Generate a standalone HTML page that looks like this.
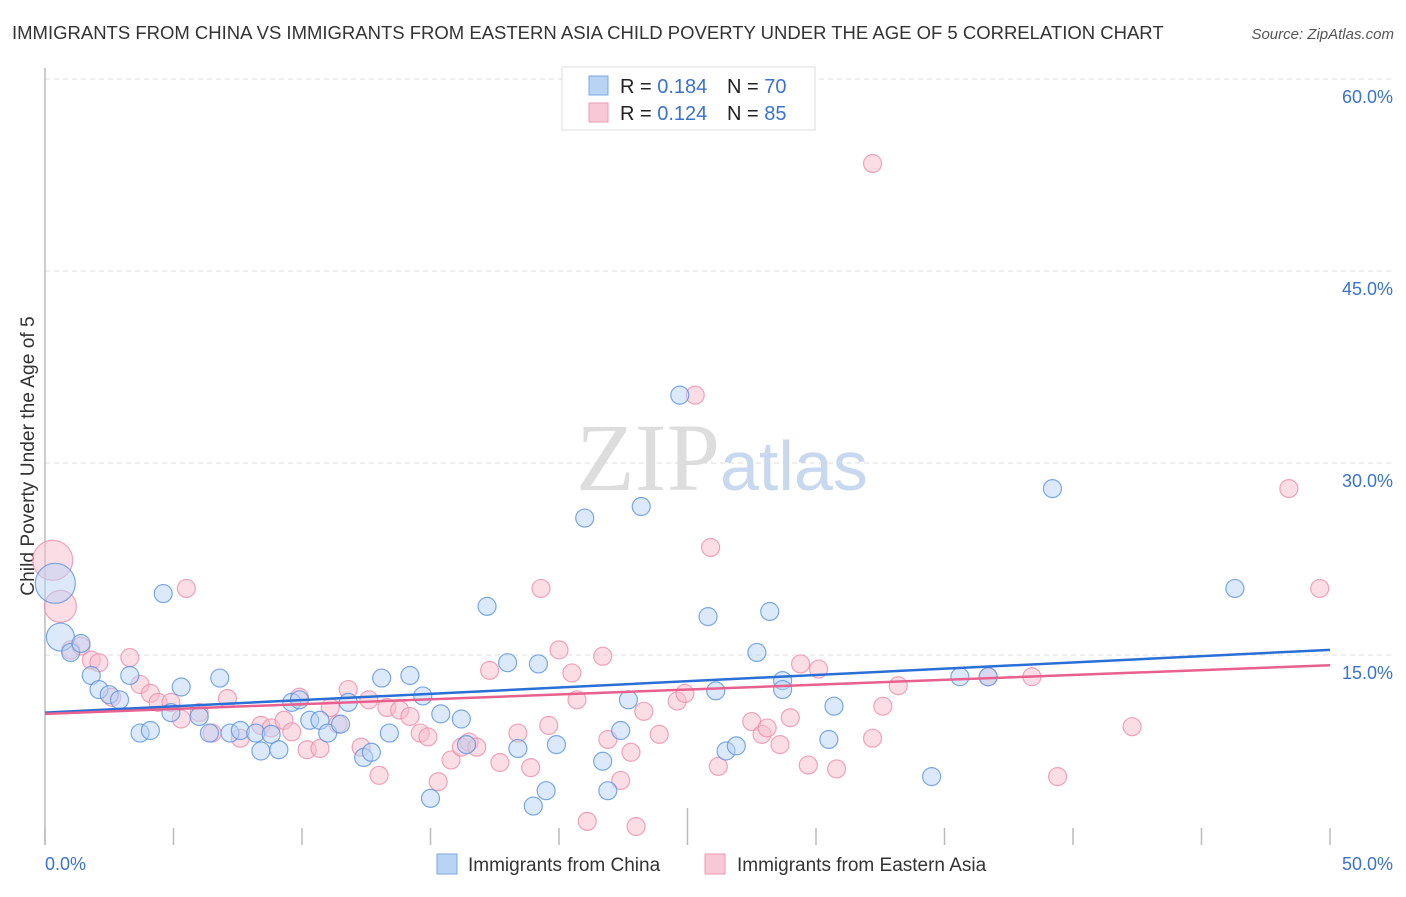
<!DOCTYPE html>
<html><head><meta charset="utf-8"><style>
body{margin:0;background:#fff;font-family:"Liberation Sans",sans-serif;}
</style></head><body>
<svg id="chart" width="1406" height="892" xmlns="http://www.w3.org/2000/svg">
<text x="12" y="39" font-size="18.5" fill="#333">IMMIGRANTS FROM CHINA VS IMMIGRANTS FROM EASTERN ASIA CHILD POVERTY UNDER THE AGE OF 5 CORRELATION CHART</text>
<text x="1394" y="39" font-size="15" fill="#555" font-style="italic" text-anchor="end">Source: ZipAtlas.com</text>
<g id="grid"></g>
<text x="720" y="490" font-size="96" font-family="Liberation Serif,serif" fill="#ddd" text-anchor="end">ZIP</text>
<text x="720" y="490" font-size="70" fill="#c8d8ef">atlas</text>
<line x1="45" y1="68" x2="45" y2="845" stroke="#bbb" stroke-width="1.5"/>
<text transform="translate(34,456) rotate(-90)" font-size="19.2" fill="#333" text-anchor="middle">Child Poverty Under the Age of 5</text>
<g id="ticks"></g>
<g id="pts"></g>
<g id="trends"></g>
<g>
<rect x="562" y="67" width="253" height="63" fill="#fff" stroke="#ddd"/>
<rect x="589" y="76" width="19" height="19" fill="#b9d3f5" stroke="#7aa7e3"/>
<rect x="589" y="103" width="19" height="19" fill="#f9c8d6" stroke="#ee9ab4"/>
<text x="620" y="93" font-size="20" fill="#222">R = <tspan fill="#3a72cc">0.184</tspan></text>
<text x="727" y="93" font-size="20" fill="#222">N = <tspan fill="#3a72cc">70</tspan></text>
<text x="620" y="120" font-size="20" fill="#222">R = <tspan fill="#3a72cc">0.124</tspan></text>
<text x="727" y="120" font-size="20" fill="#222">N = <tspan fill="#3a72cc">85</tspan></text>
</g>
<g>
<rect x="437" y="854" width="20" height="20" fill="#b9d3f5" stroke="#7aa7e3"/>
<text x="468" y="871" font-size="19" fill="#333">Immigrants from China</text>
<rect x="705" y="854" width="20" height="20" fill="#f9c8d6" stroke="#ee9ab4"/>
<text x="737" y="871" font-size="19" fill="#333">Immigrants from Eastern Asia</text>
</g>
</svg>
<script>
const yTicks=[15,30,45,60];
const yTickLabels=["15.0%","30.0%","45.0%","60.0%"];
const xTicks=[0,5,10,15,20,25,30,35,40,45,50];
const xEndLabels=["0.0%","50.0%"];
const chinaX=[0.4,0.6,1.0,1.4,1.8,2.1,2.5,2.9,3.3,3.7,4.1,4.6,4.9,5.3,6.0,6.4,6.8,7.2,7.6,8.2,8.4,8.8,9.1,9.6,9.9,10.3,10.7,11.0,11.5,11.8,12.4,12.7,13.1,13.4,14.2,14.7,15.0,15.4,16.2,16.4,17.2,18.0,18.4,19.0,19.2,19.5,19.9,21.0,21.7,21.9,22.4,22.7,23.2,24.7,25.8,26.1,26.5,26.9,27.7,28.2,28.7,28.7,30.5,30.7,34.5,35.6,36.7,39.2,46.3];
const chinaY=[20.6,16.4,15.2,15.9,13.4,12.3,11.9,11.5,13.4,8.9,9.1,19.8,10.5,12.5,10.2,8.9,13.2,8.9,9.1,8.9,7.5,8.8,7.6,11.3,11.5,9.9,9.9,8.9,9.6,11.3,7.0,7.4,13.2,8.9,13.4,11.8,3.8,10.4,10.0,8.0,18.8,14.4,7.7,3.2,14.3,4.4,8.0,25.7,6.7,4.4,9.1,11.5,26.6,35.3,18.0,12.2,7.5,7.9,15.2,18.4,13.0,12.3,8.4,11.0,5.5,13.3,13.3,28.0,20.2];
const chinaR=[20,14];
const asiaX=[0.3,0.6,1.0,1.4,1.8,2.1,2.6,3.3,3.7,4.1,4.4,4.9,5.3,5.5,6.0,6.5,7.1,7.6,8.4,8.8,9.3,9.6,9.9,10.2,10.7,11.1,11.4,11.8,12.3,12.6,13.0,13.3,13.8,14.2,14.6,14.9,15.3,15.8,16.2,16.5,16.8,17.3,17.7,18.4,18.9,19.3,19.6,20.0,20.5,20.7,21.1,21.7,21.9,22.4,22.8,23.3,23.0,23.9,24.6,24.9,25.3,25.9,26.2,27.5,27.9,28.1,28.6,29.0,29.4,29.7,30.1,30.8,32.2,32.2,32.6,33.2,36.7,38.4,39.4,42.3,48.4,49.6];
const asiaY=[22.4,18.8,15.4,15.7,14.6,14.4,11.7,14.8,12.7,12.0,11.3,11.3,10.0,20.2,10.5,8.9,11.6,8.5,9.5,9.3,9.9,9.0,11.7,7.6,7.7,10.9,9.6,12.3,7.8,11.5,5.6,10.9,10.7,10.2,8.9,8.6,5.1,6.8,7.8,8.2,7.8,13.8,6.6,8.9,6.2,20.2,9.5,15.4,13.6,11.5,2.0,14.9,8.4,5.2,7.4,10.6,1.6,8.8,11.4,12.0,35.3,23.4,6.3,9.8,8.8,9.3,8.0,10.1,14.3,6.4,13.9,6.1,53.4,8.5,11.0,12.6,13.3,13.3,5.5,9.4,28.0,20.2];
const asiaR=[20,16];
const chinaTrend=[10.5,15.4];
const asiaTrend=[10.4,14.2];
const NS="http://www.w3.org/2000/svg";
const X0=45,X1=1330,YB=847,PPU=192/15;
function sx(v){return X0+(v/50)*(X1-X0);}
function sy(v){return YB-v*PPU;}
function mk(tag,parent,attrs){const e=document.createElementNS(NS,tag);for(const k in attrs)e.setAttribute(k,attrs[k]);document.getElementById(parent).appendChild(e);return e;}
yTicks.forEach((t,i)=>{
 const l=mk('line','grid',{x1:45,x2:1393,y1:sy(t),y2:sy(t),stroke:'#ddd','stroke-dasharray':'5,4'});
 
 
 const tx=mk('text','grid',{x:1393,y:sy(t)+24,'font-size':18,fill:'#3a72cc','text-anchor':'end'});
 tx.textContent=yTickLabels[i];
 
 
});
xTicks.forEach((t,i)=>{
 const l=mk('line','ticks',{x1:sx(t),x2:sx(t),y1:(t===25?808:828),y2:845,stroke:'#bbb','stroke-width':1.5});
 
 
});
[[0,'start',45],[50,'end',1393]].forEach((d,i)=>{
 const tx=mk('text','ticks',{x:d[2],y:870,'font-size':18,fill:'#3a72cc','text-anchor':d[1]});
 tx.textContent=xEndLabels[i];
 
 
});
function series(xs,ys,rs,fill,stroke,name){
 xs.forEach((x,i)=>{
  const c=mk('circle','pts',{cx:sx(x),cy:sy(ys[i]),r:(rs[i]?rs[i]:9),fill:fill,'fill-opacity':0.5,stroke:stroke,'stroke-width':1.2,'stroke-opacity':0.8});
  
  
 });
}
series(asiaX,asiaY,asiaR,'#f7bccd','#ec8fab','eastern-asia');
series(chinaX,chinaY,chinaR,'#b9d3f5','#5b93de','china');
const t1=mk('line','trends',{x1:sx(0),y1:sy(chinaTrend[0]),x2:sx(50),y2:sy(chinaTrend[1]),stroke:'#2a6fd6','stroke-width':2.5});


const t2=mk('line','trends',{x1:sx(0),y1:sy(asiaTrend[0]),x2:sx(50),y2:sy(asiaTrend[1]),stroke:'#e8608d','stroke-width':2.5});


</script>
</body></html>
